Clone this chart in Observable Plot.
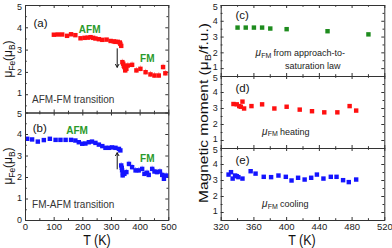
<!DOCTYPE html>
<html><head><meta charset="utf-8">
<script src="https://cdn.jsdelivr.net/npm/d3@7"></script>
<script src="https://cdn.jsdelivr.net/npm/@observablehq/plot@0.6"></script>
<style>
body{margin:0;background:#fff;}
#c{position:relative;width:392px;height:248px;font-family:"Liberation Sans",Arial,sans-serif;}
#c svg{position:absolute;left:0;top:0;overflow:visible;background:none;}
</style></head><body><div id="c"></div>
<script>
// ---- data: panel (a) AFM-FM transition (red)
const aAfmT = [99,113,128,145,159,174,192,206,217,227,236,244,256,268,283,297,308,314,322,329,331,334];
const aAfmM = [3.69,3.70,3.70,3.64,3.71,3.67,3.53,3.55,3.56,3.58,3.55,3.52,3.49,3.46,3.47,3.41,3.39,3.37,3.37,3.34,3.28,3.19];
const aFmT = [338,341,343,345,348,350,352,357,372,387,401,419,436,450,465,480,488];
const aFmM = [2.46,2.39,2.30,2.24,2.09,2.20,2.16,2.31,2.34,2.09,2.16,2.01,1.91,1.86,1.86,2.24,1.96];
const aErr = 0.13;
// ---- panel (b) FM-AFM transition (blue)
const bAfmT = [6,23,43,64,85,105,122,140,159,174,186,198,209,221,232,244,256,268,279,291,302,314,326,331];
const bAfmM = [3.80,3.77,3.67,3.74,3.80,3.75,3.75,3.75,3.75,3.72,3.64,3.57,3.58,3.64,3.67,3.61,3.53,3.46,3.38,3.38,3.40,3.38,3.33,3.26];
const bFmT = [334,336,337,339,340,345,352,361,372,384,395,407,415,424,430,442,450,459,469,477,483,491];
const bFmM = [2.56,2.45,2.33,2.10,2.20,2.17,2.25,2.63,2.48,2.33,2.33,2.40,2.17,2.22,2.12,2.40,2.28,2.25,2.28,2.12,1.94,2.09];
const bErr = 0.13;
// ---- panel (c) approach-to-saturation (green)
const cT = [340,350,360,370,380,400,450,500];
const cM = [3.60,3.60,3.60,3.60,3.54,3.50,3.37,3.17];
// ---- panel (d) heating (red)
const dT = [335,339,342,344,346,348,357,370,385,400,416,431,446,462,477,485];
const dM = [3.28,3.26,3.15,3.11,3.43,3.00,3.15,3.26,3.00,3.11,2.93,2.83,2.76,2.76,3.15,2.87];
// ---- panel (e) cooling (blue)
const eT = [329,332,334,337,339,341,346,356,362,372,381,390,399,406,414,422,430,437,445,454,461,469,476,485];
const eM = [3.37,3.52,3.12,3.31,3.27,3.21,3.12,3.58,3.43,3.23,3.21,3.31,3.23,3.00,3.17,3.06,3.17,3.37,3.12,3.23,3.23,3.02,2.90,3.06];
// ---- ticks
const leftXMajor = [0,100,200,300,400,500];
const leftXMinor = [50,150,250,350,450];
const rightXMajor = [320,360,400,440,480,520];
const rightXMinor = [340,380,420,460,500];
const yMajor = [0,1,2,3,4,5];
const yMinor = [0.5,1.5,2.5,3.5,4.5];

const RED = "#ff1010", BLUE = "#1414ff", GREEN = "#1e8c1e", LGREEN = "#2a9a2a";
const PINK = "#f7a8a8", LBLUE = "#a8a8f7";
const W = 392, H = 248;
const FONT = '"Liberation Sans", Arial, sans-serif';
const pts = (T, M) => T.map((t, i) => ({T: t, M: M[i]}));

function panel({x0, x1, y0, y1, xd, yd, xMajor, xMinor, xLabels, yLabels, marks}) {
  const fw = x1 - x0, fh = y1 - y0;
  const inY = v => v >= yd[0] && v <= yd[1];
  const yMa = yMajor.filter(inY), yMi = yMinor.filter(inY);
  const top = yLabels.filter(v => v === 5), bot = yLabels.filter(v => v === 1), mid = yLabels.filter(v => v !== 5 && v !== 1);
  const yAx = (ticks, dy) => Plot.axisY({ticks, tickFormat: d => String(d), tickSize: 0, tickPadding: 3.5, label: null, dy, fontSize: 9});
  return Plot.plot({
    width: W, height: H,
    marginLeft: x0, marginRight: W - x1, marginTop: y0, marginBottom: H - y1,
    x: {domain: xd, label: null, axis: xLabels ? undefined : null},
    y: {domain: yd, label: null},
    style: {fontFamily: FONT, fontSize: "9.5px", background: "none", overflow: "visible", color: "#222"},
    marks: [
      Plot.tickY(yMa, {insetRight: fw - 3, stroke: "#333"}),
      Plot.tickY(yMa, {insetLeft: fw - 3, stroke: "#333"}),
      Plot.tickY(yMi, {insetRight: fw - 1.8, stroke: "#333"}),
      Plot.tickY(yMi, {insetLeft: fw - 1.8, stroke: "#333"}),
      Plot.tickX(xMajor, {insetTop: fh - 3, stroke: "#333"}),
      Plot.tickX(xMajor, {insetBottom: fh - 3, stroke: "#333"}),
      Plot.tickX(xMinor, {insetTop: fh - 1.8, stroke: "#333"}),
      Plot.tickX(xMinor, {insetBottom: fh - 1.8, stroke: "#333"}),
      yAx(mid, 0), yAx(top, 1.3), yAx(bot, -1.3),
      xLabels ? Plot.axisX({ticks: xLabels, tickFormat: d => String(d), tickSize: 0, tickPadding: 3, label: null}) : null,
      ...marks,
      Plot.frame({stroke: "#333"})
    ]
  });
}
const txt = (s, T, m, o) => Plot.text([s], {x: [T], y: [m], text: d => d, ...o});
const muLabel = (T, m, rest, fs = 9) => [
  txt("μ", T, m, {textAnchor: "start", fontStyle: "italic", fontSize: 10, fill: "#222"}),
  txt("FM", T, m, {textAnchor: "start", dx: 5.6, dy: 2.5, fontSize: 7, fill: "#222"}),
  txt(rest, T, m, {textAnchor: "start", dx: 18, fontSize: fs, fill: "#222"})
];
const sq = (data, fill) => Plot.dot(data, {x: "T", y: "M", symbol: "square", r: 2.5, fill, stroke: "none"});
const err = (data, e, stroke) => Plot.ruleX(data, {x: "T", y1: d => d.M - e, y2: d => d.M + e, stroke, strokeWidth: 1});

const c = document.getElementById("c");
const LX0 = 25, LX1 = 168.3, RX0 = 220.7, RX1 = 384.3;

c.append(panel({x0: LX0, x1: LX1, y0: 5, y1: 112.5, xd: [0, 500], yd: [0.18, 5],
  xMajor: leftXMajor, xMinor: leftXMinor, xLabels: null, yLabels: [1,2,3,4,5],
  marks: [
    err(pts(aFmT, aFmM), aErr, PINK),
    sq(pts(aAfmT, aAfmM), RED), sq(pts(aFmT, aFmM), RED),
    Plot.arrow([0], {x1: [320], y1: [3.06], x2: [320], y2: [2.23], stroke: "#111", headLength: 5, strokeWidth: 1}),
    txt("(a)", 28, 4.19, {textAnchor: "start", fontSize: 11.5, fill: "#111"}),
    txt("AFM", 224, 3.92, {fontSize: 10, fontWeight: "bold", fill: LGREEN}),
    txt("FM", 425, 2.6, {fontSize: 10, fontWeight: "bold", fill: LGREEN}),
    txt("AFM-FM transition", 23, 0.78, {textAnchor: "start", fontSize: 10, fill: "#333"})
  ]}));

c.append(panel({x0: LX0, x1: LX1, y0: 112.5, y1: 220, xd: [0, 500], yd: [0, 5],
  xMajor: leftXMajor, xMinor: leftXMinor, xLabels: leftXMajor, yLabels: [0,1,2,3,4,5],
  marks: [
    err(pts(bFmT, bFmM), bErr, LBLUE),
    sq(pts(bAfmT, bAfmM), BLUE), sq(pts(bFmT, bFmM), BLUE),
    Plot.arrow([0], {x1: [320], y1: [2.40], x2: [320], y2: [3.15], stroke: "#111", headLength: 5, strokeWidth: 1}),
    txt("(b)", 25, 4.29, {textAnchor: "start", fontSize: 11.5, fill: "#111"}),
    txt("AFM", 180, 4.17, {fontSize: 10, fontWeight: "bold", fill: LGREEN}),
    txt("FM", 425, 2.87, {fontSize: 10, fontWeight: "bold", fill: LGREEN}),
    txt("FM-AFM transition", 23, 0.73, {textAnchor: "start", fontSize: 10, fill: "#333"})
  ]}));

c.append(panel({x0: RX0, x1: RX1, y0: 5, y1: 76, xd: [320, 520], yd: [0.5, 5],
  xMajor: rightXMajor, xMinor: rightXMinor, xLabels: null, yLabels: [1,2,3,4,5],
  marks: [
    sq(pts(cT, cM), GREEN),
    txt("(c)", 337.5, 4.37, {textAnchor: "start", fontSize: 11.5, fill: "#111"}),
    ...muLabel(362, 2.0, "from approach-to-"),
    txt("saturation law", 398, 1.16, {textAnchor: "start", fontSize: 9, fill: "#222"})
  ]}));

c.append(panel({x0: RX0, x1: RX1, y0: 76, y1: 148, xd: [320, 520], yd: [0.5, 5],
  xMajor: rightXMajor, xMinor: rightXMinor, xLabels: null, yLabels: [1,2,3,4,5],
  marks: [
    sq(pts(dT, dM), RED),
    txt("(d)", 337.5, 4.26, {textAnchor: "start", fontSize: 11.5, fill: "#111"}),
    ...muLabel(370, 1.55, "heating")
  ]}));

c.append(panel({x0: RX0, x1: RX1, y0: 148, y1: 220, xd: [320, 520], yd: [0.5, 5],
  xMajor: rightXMajor, xMinor: rightXMinor, xLabels: rightXMajor, yLabels: [1,2,3,4,5],
  marks: [
    sq(pts(eT, eM), BLUE),
    txt("(e)", 337.5, 4.27, {textAnchor: "start", fontSize: 11.5, fill: "#111"}),
    ...muLabel(370, 1.52, "cooling")
  ]}));

// axis titles
const svg = d3.select(c).append("svg").attr("width", W).attr("height", H)
  .style("font-family", FONT).attr("fill", "#111");
function sub(t, parts, size) {
  let shifted = false;
  for (const [s, isSub] of parts) {
    const ts = t.append("tspan").text(s);
    if (isSub && !shifted) { ts.attr("dy", size * 0.3).attr("font-size", size * 0.7); shifted = true; }
    else if (!isSub && shifted) { ts.attr("dy", -size * 0.3); shifted = false; }
    else if (isSub) ts.attr("font-size", size * 0.7);
  }
}
for (const cy of [59, 166]) {
  const t = svg.append("text").attr("transform", `translate(9,${cy}) rotate(-90)`)
    .attr("text-anchor", "middle").attr("dominant-baseline", "middle").attr("font-size", 12);
  sub(t, [["μ", false], ["Fe", true], ["(μ", false], ["B", true], [")", false]], 12);
}
{
  const t = svg.append("text").attr("transform", `translate(204.5,113) scale(1,1.15) rotate(-90)`)
    .attr("text-anchor", "middle").attr("dominant-baseline", "middle").attr("font-size", 13.5);
  sub(t, [["Magnetic moment (μ", false], ["B", true], ["/f.u.)", false]], 13.5);
}
for (const cx of [97, 302]) {
  svg.append("text").attr("transform", `translate(${cx},241) scale(1,1.1)`).attr("text-anchor", "middle")
    .attr("dominant-baseline", "middle").attr("font-size", 12.5).text("T (K)");
}
</script></body></html>
